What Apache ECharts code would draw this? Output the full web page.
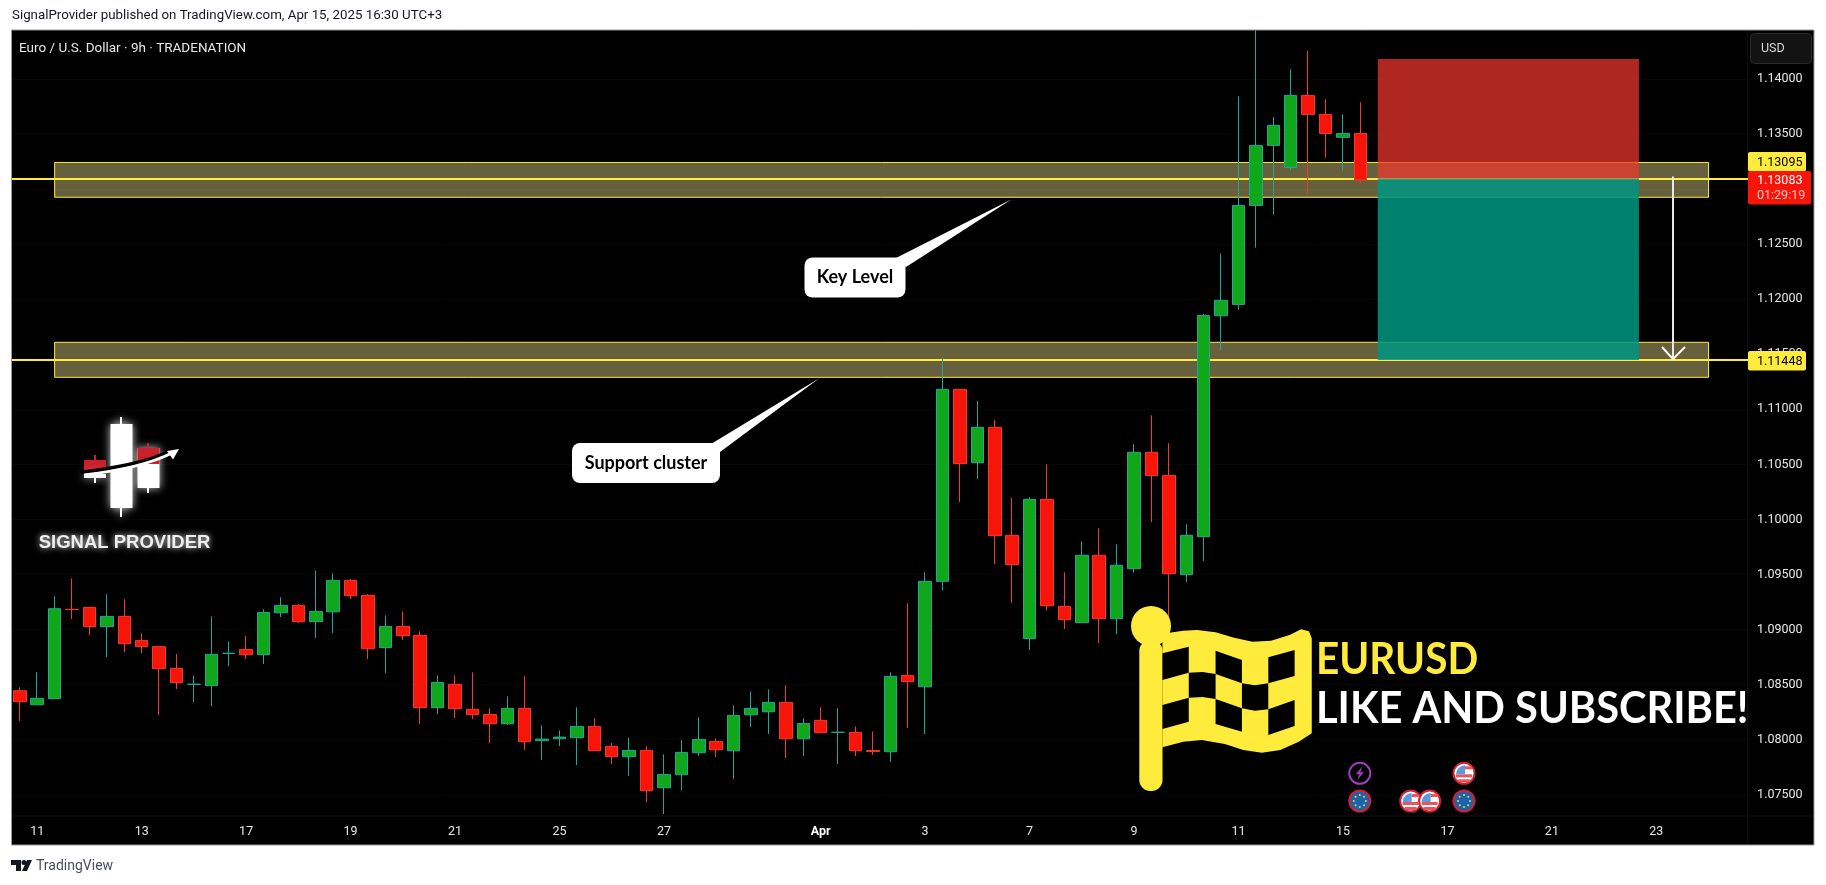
<!DOCTYPE html>
<html>
<head>
<meta charset="utf-8">
<style>
  html, body { margin: 0; padding: 0; background: #fff; }
  #main { width: 1826px; height: 885px; }
</style>
<script src="https://cdn.jsdelivr.net/npm/echarts@6/dist/echarts.min.js"></script>
</head>
<body>
<div id="main"></div>
<script>
// EURUSD 9h candles
const opens = [1.08445,1.08318,1.08373,1.09184,1.09202,1.09027,1.09120,1.08902,1.08845,1.08648,1.08503,1.08491,1.08784,1.08820,1.08772,1.09153,1.09220,1.09072,1.09162,1.09447,1.09311,1.08836,1.09029,1.08948,1.08291,1.08503,1.08276,1.08230,1.08145,1.08285,1.07991,1.08009,1.08018,1.08121,1.07940,1.07846,1.07903,1.07564,1.07682,1.07882,1.07985,1.07900,1.08227,1.08254,1.08339,1.08009,1.08176,1.08067,1.08067,1.07903,1.07891,1.08584,1.08481,1.09438,1.11182,1.10516,1.10837,1.09856,1.08918,1.10183,1.09211,1.09063,1.09675,1.09099,1.09553,1.10610,1.10401,1.09499,1.09844,1.11850,1.11953,1.12852,1.13397,1.13197,1.13851,1.13679,1.13470,1.13506];
const closes = [1.08345,1.08376,1.09190,1.09183,1.09027,1.09120,1.08872,1.08845,1.08645,1.08518,1.08504,1.08775,1.08785,1.08772,1.09156,1.09220,1.09072,1.09165,1.09447,1.09308,1.08826,1.09029,1.08945,1.08291,1.08521,1.08282,1.08227,1.08145,1.08285,1.07982,1.08006,1.08024,1.08121,1.07900,1.07846,1.07903,1.07537,1.07685,1.07885,1.08003,1.07909,1.08221,1.08285,1.08339,1.08009,1.08148,1.08064,1.08068,1.07900,1.07894,1.08575,1.08527,1.09438,1.11182,1.10507,1.10837,1.09853,1.09590,1.10183,1.09217,1.09090,1.09675,1.09099,1.09584,1.10610,1.10398,1.09508,1.09856,1.11853,1.11990,1.12852,1.13397,1.13579,1.13851,1.13679,1.13506,1.13506,1.13083];
const lows = [1.08170,1.08318,1.08373,1.09096,1.08951,1.08751,1.08796,1.08787,1.08224,1.08460,1.08342,1.08306,1.08669,1.08733,1.08687,1.09114,1.09060,1.08923,1.08969,1.09277,1.08733,1.08605,1.08905,1.08142,1.08233,1.08197,1.08188,1.07970,1.08133,1.07906,1.07815,1.07943,1.07770,1.07900,1.07779,1.07670,1.07434,1.07325,1.07543,1.07852,1.07843,1.07643,1.08115,1.08052,1.07834,1.07852,1.08064,1.07779,1.07852,1.07861,1.07797,1.08106,1.08052,1.09354,1.10159,1.10368,1.09596,1.09242,1.08815,1.09172,1.09006,1.09063,1.08878,1.08960,1.09517,1.09977,1.08966,1.09432,1.09623,1.11539,1.11905,1.12468,1.12768,1.13173,1.12958,1.13285,1.13167,1.13058];
const highs = [1.08476,1.08612,1.09302,1.09465,1.09202,1.09320,1.09275,1.08966,1.08845,1.08778,1.08584,1.09120,1.08893,1.08941,1.09184,1.09293,1.09232,1.09538,1.09511,1.09459,1.09323,1.09129,1.09165,1.08984,1.08584,1.08584,1.08612,1.08285,1.08394,1.08575,1.08130,1.08085,1.08294,1.08194,1.07970,1.08021,1.07940,1.07867,1.07994,1.08203,1.08012,1.08312,1.08439,1.08457,1.08494,1.08194,1.08294,1.08285,1.08121,1.08076,1.08612,1.09238,1.09520,1.11464,1.11182,1.11076,1.10904,1.10195,1.10201,1.10501,1.09520,1.09802,1.09920,1.09774,1.10683,1.10946,1.10692,1.09956,1.11866,1.12416,1.13842,1.14440,1.13655,1.14087,1.14254,1.13815,1.13679,1.13788];

const slotCount = 100;
const xTickSlots = [1,7,13,19,25,31,37,46,52,58,64,70,76,82,88,94];
const xTickLabels = ['11','13','17','19','21','25','27','Apr','3','7','9','11','15','17','21','23'];
const yTicks = [1.075,1.08,1.085,1.09,1.095,1.10,1.105,1.11,1.115,1.12,1.125,1.13,1.135,1.14];

const keyLevels = [1.13095, 1.11448];
const lastPrice = 1.13083;
const countdown = '01:29:19';
const zoneUpper = [1.12926, 1.13242];
const zoneLower = [1.11291, 1.11609];
const stopLevel = 1.14182;

const xCategories = [];
for (let i = 0; i < slotCount; i++) {
  const k = xTickSlots.indexOf(i);
  xCategories.push(k >= 0 ? xTickLabels[k] : '');
}
const candles = opens.map((o, i) => [o, closes[i], lows[i], highs[i]]);

const YELLOW = '#ffeb3b';
const UI_FONT = 'Roboto, sans-serif';

// overlay helpers, pixel positions of the drawings on top of the chart
const rect = (x, y, w, h, fill, z, extra) => ({
  type: 'rect', shape: { x, y, width: w, height: h, r: (extra && extra.r) || 0 },
  style: Object.assign({ fill }, extra && extra.style), z, silent: true
});
const text = (x, y, str, font, fill, align, z, extra) => ({
  type: 'text', x, y, z, silent: true,
  style: Object.assign({ text: str, font, fill, align: align || 'left', verticalAlign: 'middle' }, extra)
});
const poly = (pts, fill, z, extra) => ({
  type: 'polygon', shape: { points: pts }, style: Object.assign({ fill }, extra), z, silent: true
});
const circle = (cx, cy, r, fill, z, extra) => ({
  type: 'circle', shape: { cx, cy, r }, style: Object.assign({ fill }, extra), z, silent: true
});

function callout(x, y, w, h, tail, label, tx) {
  return [
    poly(tail, '#fff', 60),
    rect(x, y, w, h, '#fff', 60, { r: 8 }),
    text(tx, y + h / 2, label, 'bold 18px Lato, sans-serif', '#000', 'center', 61)
  ];
}

function logo() {
  const glow = { shadowBlur: 8, shadowColor: 'rgba(255,255,255,0.85)' };
  return [
    rect(120, 417, 2, 100, '#fff', 40, { style: glow }),
    rect(110.5, 424, 22, 84, '#fff', 40, { style: glow }),
    rect(94, 455, 2, 28, '#fff', 40),
    rect(147, 443, 2, 50, '#fff', 40),
    rect(137.5, 448, 22, 40, '#fff', 40, { style: glow }),
    rect(137.5, 448, 22, 16, '#c9202c', 41),
    rect(94, 455, 2, 6, '#c9202c', 41),
    rect(147, 443, 2, 6, '#c9202c', 41),
    rect(84, 460, 22, 12, '#c9202c', 41),
    rect(84, 474, 22, 4, '#fff', 41, { style: glow }),
    { type: 'bezierCurve', z: 42, silent: true,
      shape: { x1: 80, y1: 472.5, cpx1: 115, cpy1: 468.5, cpx2: 150, cpy2: 461.5, x2: 172, y2: 450.5 },
      style: { stroke: '#000', lineWidth: 4, fill: 'none' } },
    { type: 'bezierCurve', z: 43, silent: true,
      shape: { x1: 84, y1: 475, cpx1: 118, cpy1: 471, cpx2: 150, cpy2: 464, x2: 172, y2: 453 },
      style: { stroke: '#fff', lineWidth: 3, fill: 'none' } },
    poly([[179, 449], [167, 451], [173, 459.5]], '#fff', 43),
    text(124.5, 543, 'SIGNAL PROVIDER', 'bold 18.5px "Liberation Sans", sans-serif', '#eee', 'center', 44,
      { textShadowBlur: 6, textShadowColor: 'rgba(255,255,255,0.9)' })
  ];
}

// the flag was measured on a crop starting at (1100,600)
const fp = ([x, y]) => [1100 + x / 2.163, 600 + y / 3];
function flag() {
  const outline = [[135,106],[150,98],[180,92],[210,90],[250,97],[290,113],[330,125],[370,122],[410,105],[435,88],[452,94],[458,115],[458,400],[430,425],[390,450],[350,458],[310,450],[270,432],[220,420],[180,425],[135,442]];
  const squares = [
    [[135,160],[192,140],[192,218],[135,240]],
    [[250,152],[307,180],[307,250],[250,222]],
    [[364,172],[421,150],[421,228],[364,250]],
    [[192,218],[222,216],[250,222],[250,297],[222,291],[192,293]],
    [[307,250],[335,256],[364,250],[364,328],[335,332],[307,325]],
    [[135,315],[192,293],[192,365],[135,387]],
    [[250,297],[307,325],[307,395],[250,372]],
    [[364,328],[421,300],[421,378],[364,405]]
  ];
  const out = [
    circle(1151, 626, 20, YELLOW, 50),
    rect(1139.3, 640, 23.2, 151, YELLOW, 50, { r: 11 }),
    poly(outline.map(fp), YELLOW, 50)
  ];
  squares.forEach(s => out.push(poly(s.map(fp), '#000', 51)));
  out.push(Object.assign(text(1316, 660, 'EURUSD', 'bold 44px Lato, sans-serif', YELLOW, 'left', 52),
    { scaleX: 0.92, originX: 0 }));
  out.push(Object.assign(text(1316, 709, 'LIKE AND SUBSCRIBE!', 'bold 44px Lato, sans-serif', '#fff', 'left', 52),
    { scaleX: 0.945, originX: 0 }));
  return out;
}

function euIcon(cx, cy) {
  const out = [circle(cx, cy, 10.5, '#1c63ad', 55, { stroke: '#d5202f', lineWidth: 2 })];
  for (let i = 0; i < 8; i++) {
    const a = i * Math.PI / 4;
    out.push(circle(cx + 6 * Math.cos(a), cy + 6 * Math.sin(a), 1, '#f4d03f', 56));
  }
  return out;
}
function usIcon(cx, cy) {
  return [
    circle(cx, cy, 10.5, '#fff', 55, { stroke: '#d5202f', lineWidth: 2 }),
    rect(cx + 1, cy - 7, 7, 3, '#e9545e', 56),
    rect(cx - 8, cy + 1, 16, 3, '#e9545e', 56),
    rect(cx - 6, cy + 6, 12, 3, '#e9545e', 56),
    { type: 'sector', z: 56, silent: true, style: { fill: '#5a9be0' },
      shape: { cx: cx + 1, cy: cy + 1, r: 9, startAngle: Math.PI, endAngle: Math.PI * 1.5 } }
  ];
}
function flashIcon(cx, cy) {
  return [
    circle(cx, cy, 10.5, '#000', 55, { stroke: '#9c3fb8', lineWidth: 2 }),
    poly([[cx + 2.5, cy - 7], [cx - 4, cy + 1], [cx - 0.5, cy + 1], [cx - 2.5, cy + 7], [cx + 4, cy - 1], [cx + 0.5, cy - 1]], '#9c3fb8', 56)
  ];
}

function tvLogo() {
  return [
    poly([[11, 860], [21, 860], [21, 871], [16, 871], [16, 865], [11, 865]], '#131722', 30),
    circle(24, 862.5, 2.5, '#131722', 30),
    poly([[22, 871], [27, 860], [32, 860], [27, 871]], '#131722', 30)
  ];
}

const graphics = [
  rect(11.5, 30, 1802.5, 815, '#000', -1),
  rect(1747, 30, 1, 815, '#0e0e0e', 0),
  rect(12, 815.5, 1802, 1, '#0e0e0e', 0),
  // hides the ends of the level lines left of the frame
  rect(0, 30, 11.5, 815, '#fff', 70),
  rect(11.5, 30, 1802.5, 815, 'none', 71, { style: { stroke: '#9a9a9a', lineWidth: 1 } }),
  text(12, 16, 'SignalProvider published on TradingView.com, Apr 15, 2025 16:30 UTC+3', '13.3px ' + UI_FONT, '#131722'),
  text(36, 866, 'TradingView', '14px ' + UI_FONT, '#4a4e5a'),
  // arrow of the short idea
  { type: 'line', z: 35, silent: true, shape: { x1: 1673, y1: 176.5, x2: 1673, y2: 359 }, style: { stroke: '#e8e8e8', lineWidth: 2 } },
  { type: 'polyline', z: 35, silent: true, shape: { points: [[1662, 347], [1673, 359], [1685, 347]] }, style: { stroke: '#fff', lineWidth: 2, fill: 'none' } },
  // price tags and the currency button
  rect(1750.5, 33.5, 61, 30, '#131313', 20, { r: 4, style: { stroke: '#2b2b2b', lineWidth: 1 } }),
  text(1761, 48.5, 'USD', '12.5px ' + UI_FONT, '#d6d6d6', 'left', 21),
  rect(1748, 152, 58, 19.5, YELLOW, 20, { r: 2 }),
  text(1757, 163, keyLevels[0].toFixed(5), '12.5px ' + UI_FONT, '#000', 'left', 21),
  rect(1748, 171, 63, 33.5, '#f7150a', 22, { r: 2 }),
  text(1757, 181, lastPrice.toFixed(5), '12.5px ' + UI_FONT, '#fff', 'left', 23),
  text(1757, 196, countdown, '12.5px ' + UI_FONT, '#ffc4c0', 'left', 23),
  rect(1748, 351, 58, 19.5, YELLOW, 20, { r: 2 }),
  text(1757, 362, keyLevels[1].toFixed(5), '12.5px ' + UI_FONT, '#000', 'left', 21)
].concat(
  callout(804.5, 257.5, 101, 40, [[896, 258], [906, 267], [1011.7, 199.3]], 'Key Level', 855),
  callout(572, 443, 148, 40, [[711, 444], [720, 452], [819.3, 378.3]], 'Support cluster', 646),
  logo(), flag(), tvLogo(),
  flashIcon(1359.8, 773.3), euIcon(1359.8, 801), usIcon(1410.7, 801), usIcon(1429.6, 801),
  usIcon(1464, 773.3), euIcon(1464, 801)
);

const chart = echarts.init(document.getElementById('main'), null, { renderer: 'canvas' });

chart.setOption({
  animation: false,
  backgroundColor: '#ffffff',
  title: {
    text: 'Euro / U.S. Dollar · 9h · TRADENATION',
    left: 19, top: 41.5, padding: 0,
    textStyle: { color: '#e6e6e6', fontSize: 13.5, fontWeight: 'normal', fontFamily: UI_FONT }
  },
  grid: { left: 11.1, right: 73.9, top: 30.5, bottom: 69 },
  xAxis: {
    type: 'category',
    data: xCategories,
    axisLine: { show: false },
    axisTick: { show: false },
    splitLine: { show: false },
    axisLabel: {
      interval: 0,
      margin: 9,
      color: '#e6e6e6',
      fontSize: 12.5,
      fontFamily: UI_FONT,
      formatter: v => (v === 'Apr' ? '{b|Apr}' : v),
      rich: {
        b: { fontWeight: 'bold', color: '#fff', fontSize: 12.5, fontFamily: UI_FONT }
      }
    }
  },
  yAxis: {
    type: 'value',
    position: 'right',
    min: 1.073074,
    max: 1.144404,
    axisLine: { show: false },
    axisTick: { show: false, customValues: yTicks },
    splitLine: { show: true, lineStyle: { color: '#070707' } },
    axisLabel: {
      customValues: yTicks,
      margin: 5,
      padding: [3, 0, 0, 0],
      color: '#e6e6e6',
      fontSize: 12.5,
      fontFamily: UI_FONT,
      formatter: v => v.toFixed(5)
    }
  },
  graphic: { elements: graphics },
  series: [
    {
      // yellow zones behind everything
      type: 'line', data: [], z: 1,
      markArea: {
        silent: true, z: 1,
        data: [zoneUpper, zoneLower].map(([lo, hi]) => [
          { xAxis: 2, yAxis: hi, itemStyle: { color: 'rgba(255,240,150,0.4)', borderColor: YELLOW, borderWidth: 1 } },
          { xAxis: 97, yAxis: lo }
        ])
      },
      markLine: {
        silent: true, z: 2, symbol: 'none', precision: 5, label: { show: false },
        lineStyle: { color: YELLOW, width: 2, type: 'solid' },
        data: keyLevels.map(v => ({ yAxis: v }))
      }
    },
    {
      // risk / reward box
      type: 'line', data: [], z: 3,
      markArea: {
        silent: true, z: 3,
        data: [
          [{ xAxis: 78, yAxis: stopLevel, itemStyle: { color: 'rgba(242,54,44,0.72)' } }, { xAxis: 93, yAxis: keyLevels[0] }],
          [{ xAxis: 78, yAxis: keyLevels[0], itemStyle: { color: 'rgba(0,150,130,0.86)' } }, { xAxis: 93, yAxis: keyLevels[1] }]
        ]
      }
    },
    {
      type: 'candlestick',
      data: candles,
      z: 10,
      barWidth: 13,
      itemStyle: {
        color: '#11a71a',
        color0: '#f7150a',
        borderColor: '#22a69a',
        borderColor0: '#f23c30',
        borderWidth: 1
      }
    }
  ]
});
</script>
</body>
</html>
